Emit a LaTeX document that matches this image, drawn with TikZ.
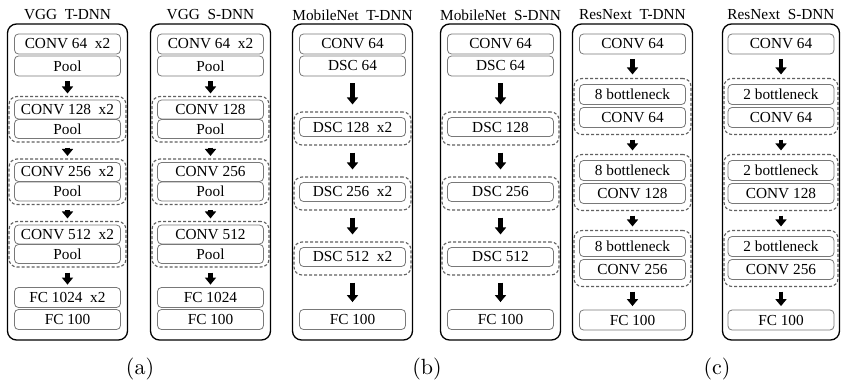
\documentclass[tikz,border=0pt]{standalone}
\usepackage{fontspec}
\setmainfont{Liberation Serif}
\newfontfamily\capfont{lmroman10-regular.otf}
\usetikzlibrary{arrows.meta}
\definecolor{layergray}{RGB}{120,120,120}
\definecolor{groupgray}{RGB}{96,96,96}
\newcommand{\boxfont}{\fontsize{15.3}{17}\selectfont}

\begin{document}
\begin{tikzpicture}[x=1pt, y=-1pt,
    panel/.style={draw, line width=1.3pt, rounded corners=9pt, minimum width=120pt, minimum height=316pt, inner sep=0pt},
    layer/.style={draw=layergray, line width=0.8pt, rounded corners=4pt, minimum width=106pt, minimum height=20pt, inner sep=0pt, font=\boxfont},
    group/.style={draw=groupgray, line width=1.1pt, dash pattern=on 3pt off 2pt, rounded corners=8pt, minimum width=117pt, inner sep=0pt},
    title/.style={font=\boxfont, inner sep=0pt},
    sub/.style={font=\capfont\fontsize{22}{26}\selectfont, inner sep=0pt},
    flow/.style={-{Triangle[width=11pt,length=7pt]}, line width=4.2pt}]

    \useasboundingbox (0,0) rectangle (841,380);

    \node[panel] (vt) at (67.5,182) {};
    \node[title] (vtt) at (67.5,15) {VGG~~T-DNN};
    \node[layer] (vt1) at (67.5,44) {CONV 64~~x2};
    \node[layer] (vt2) at (67.5,66) {Pool};
    \node[group, minimum height=45.5pt] (vtg1) at (67.5,119.25) {};
    \node[layer, minimum height=19pt] (vt3) at (67.5,109.5) {CONV 128~~x2};
    \node[layer, minimum height=19pt] (vt4) at (67.5,129) {Pool};
    \node[group, minimum height=45.5pt] (vtg2) at (67.5,181.75) {};
    \node[layer, minimum height=19pt] (vt5) at (67.5,172) {CONV 256~~x2};
    \node[layer, minimum height=19pt] (vt6) at (67.5,191.5) {Pool};
    \node[group, minimum height=45.5pt] (vtg3) at (67.5,244.25) {};
    \node[layer, minimum height=19pt] (vt7) at (67.5,234.5) {CONV 512~~x2};
    \node[layer, minimum height=19pt] (vt8) at (67.5,254) {Pool};
    \node[layer] (vt9) at (67.5,297.5) {FC 1024~~x2};
    \node[layer] (vt10) at (67.5,319.5) {FC 100};
    \path[flow, shorten <=5pt, shorten >=2.5pt] (vt2) edge (vtg1) (vtg1) edge (vtg2) (vtg2) edge (vtg3) (vtg3) edge (vt9);

    \node[panel] (vs) at (210.5,182) {};
    \node[title] (vst) at (210.5,15) {VGG~~S-DNN};
    \node[layer] (vs1) at (210.5,44) {CONV 64~~x2};
    \node[layer] (vs2) at (210.5,66) {Pool};
    \node[group, minimum height=45.5pt] (vsg1) at (210.5,119.25) {};
    \node[layer, minimum height=19pt] (vs3) at (210.5,109.5) {CONV 128};
    \node[layer, minimum height=19pt] (vs4) at (210.5,129) {Pool};
    \node[group, minimum height=45.5pt] (vsg2) at (210.5,181.75) {};
    \node[layer, minimum height=19pt] (vs5) at (210.5,172) {CONV 256};
    \node[layer, minimum height=19pt] (vs6) at (210.5,191.5) {Pool};
    \node[group, minimum height=45.5pt] (vsg3) at (210.5,244.25) {};
    \node[layer, minimum height=19pt] (vs7) at (210.5,234.5) {CONV 512};
    \node[layer, minimum height=19pt] (vs8) at (210.5,254) {Pool};
    \node[layer] (vs9) at (210.5,297.5) {FC 1024};
    \node[layer] (vs10) at (210.5,319.5) {FC 100};
    \path[flow, shorten <=5pt, shorten >=2.5pt] (vs2) edge (vsg1) (vsg1) edge (vsg2) (vsg2) edge (vsg3) (vsg3) edge (vs9);

    \node[panel] (mt) at (352.5,182) {};
    \node[title] (mtt) at (352.5,15) {MobileNet~~T-DNN};
    \node[layer] (mt1) at (352.5,44) {CONV 64};
    \node[layer] (mt2) at (352.5,66) {DSC 64};
    \node[group, minimum height=33pt] (mtg1) at (352.5,128.5) {};
    \node[layer, minimum height=19pt] (mt3) at (352.5,127) {DSC 128~~x2};
    \node[group, minimum height=33pt] (mtg2) at (352.5,193.5) {};
    \node[layer, minimum height=19pt] (mt4) at (352.5,192) {DSC 256~~x2};
    \node[group, minimum height=33pt] (mtg3) at (352.5,258.5) {};
    \node[layer, minimum height=19pt] (mt5) at (352.5,257) {DSC 512~~x2};
    \node[layer] (mt6) at (352.5,319.5) {FC 100};
    \path[flow, shorten <=7pt, shorten >=7pt] (mt2) edge (mtg1) (mtg1) edge (mtg2) (mtg2) edge (mtg3) (mtg3) edge (mt6);

    \node[panel] (ms) at (500.5,182) {};
    \node[title] (mst) at (500.5,15) {MobileNet~~S-DNN};
    \node[layer] (ms1) at (500.5,44) {CONV 64};
    \node[layer] (ms2) at (500.5,66) {DSC 64};
    \node[group, minimum height=33pt] (msg1) at (500.5,128.5) {};
    \node[layer, minimum height=19pt] (ms3) at (500.5,127) {DSC 128};
    \node[group, minimum height=33pt] (msg2) at (500.5,193.5) {};
    \node[layer, minimum height=19pt] (ms4) at (500.5,192) {DSC 256};
    \node[group, minimum height=33pt] (msg3) at (500.5,258.5) {};
    \node[layer, minimum height=19pt] (ms5) at (500.5,257) {DSC 512};
    \node[layer] (ms6) at (500.5,319.5) {FC 100};
    \path[flow, shorten <=7pt, shorten >=7pt] (ms2) edge (msg1) (msg1) edge (msg2) (msg2) edge (msg3) (msg3) edge (ms6);

    \node[panel] (rt) at (632.5,182) {};
    \node[title] (rtt) at (632.5,15) {ResNext~~T-DNN};
    \node[layer] (rt1) at (632.5,44) {CONV 64};
    \node[group, minimum height=56pt] (rtg1) at (632.5,106.5) {};
    \node[layer] (rt2) at (632.5,94.5) {8 bottleneck};
    \node[layer] (rt3) at (632.5,117.5) {CONV 64};
    \node[group, minimum height=56pt] (rtg2) at (632.5,182.5) {};
    \node[layer] (rt4) at (632.5,170.5) {8 bottleneck};
    \node[layer] (rt5) at (632.5,193.5) {CONV 128};
    \node[group, minimum height=56pt] (rtg3) at (632.5,258.5) {};
    \node[layer] (rt6) at (632.5,246.5) {8 bottleneck};
    \node[layer] (rt7) at (632.5,269.5) {CONV 256};
    \node[layer] (rt8) at (632.5,320) {FC 100};
    \path[flow, shorten <=4.5pt, shorten >=3.5pt] (rt1) edge (rtg1) (rtg1) edge (rtg2) (rtg2) edge (rtg3) (rtg3) edge (rt8);

    \node[panel, minimum width=117pt] (rs) at (781,182) {};
    \node[title] (rst) at (781,15) {ResNext~~S-DNN};
    \node[layer] (rs1) at (781,44) {CONV 64};
    \node[group, minimum height=56pt, minimum width=114pt] (rsg1) at (781,106.5) {};
    \node[layer] (rs2) at (781,94.5) {2 bottleneck};
    \node[layer] (rs3) at (781,117.5) {CONV 64};
    \node[group, minimum height=56pt, minimum width=114pt] (rsg2) at (781,182.5) {};
    \node[layer] (rs4) at (781,170.5) {2 bottleneck};
    \node[layer] (rs5) at (781,193.5) {CONV 128};
    \node[group, minimum height=56pt, minimum width=114pt] (rsg3) at (781,258.5) {};
    \node[layer] (rs6) at (781,246.5) {2 bottleneck};
    \node[layer] (rs7) at (781,269.5) {CONV 256};
    \node[layer] (rs8) at (781,320) {FC 100};
    \path[flow, shorten <=4.5pt, shorten >=3.5pt] (rs1) edge (rsg1) (rsg1) edge (rsg2) (rsg2) edge (rsg3) (rsg3) edge (rs8);

    \node[sub] (suba) at (140,369) {(a)};
    \node[sub] (subb) at (427,369) {(b)};
    \node[sub] (subc) at (717,369) {(c)};

\end{tikzpicture}
\end{document}
